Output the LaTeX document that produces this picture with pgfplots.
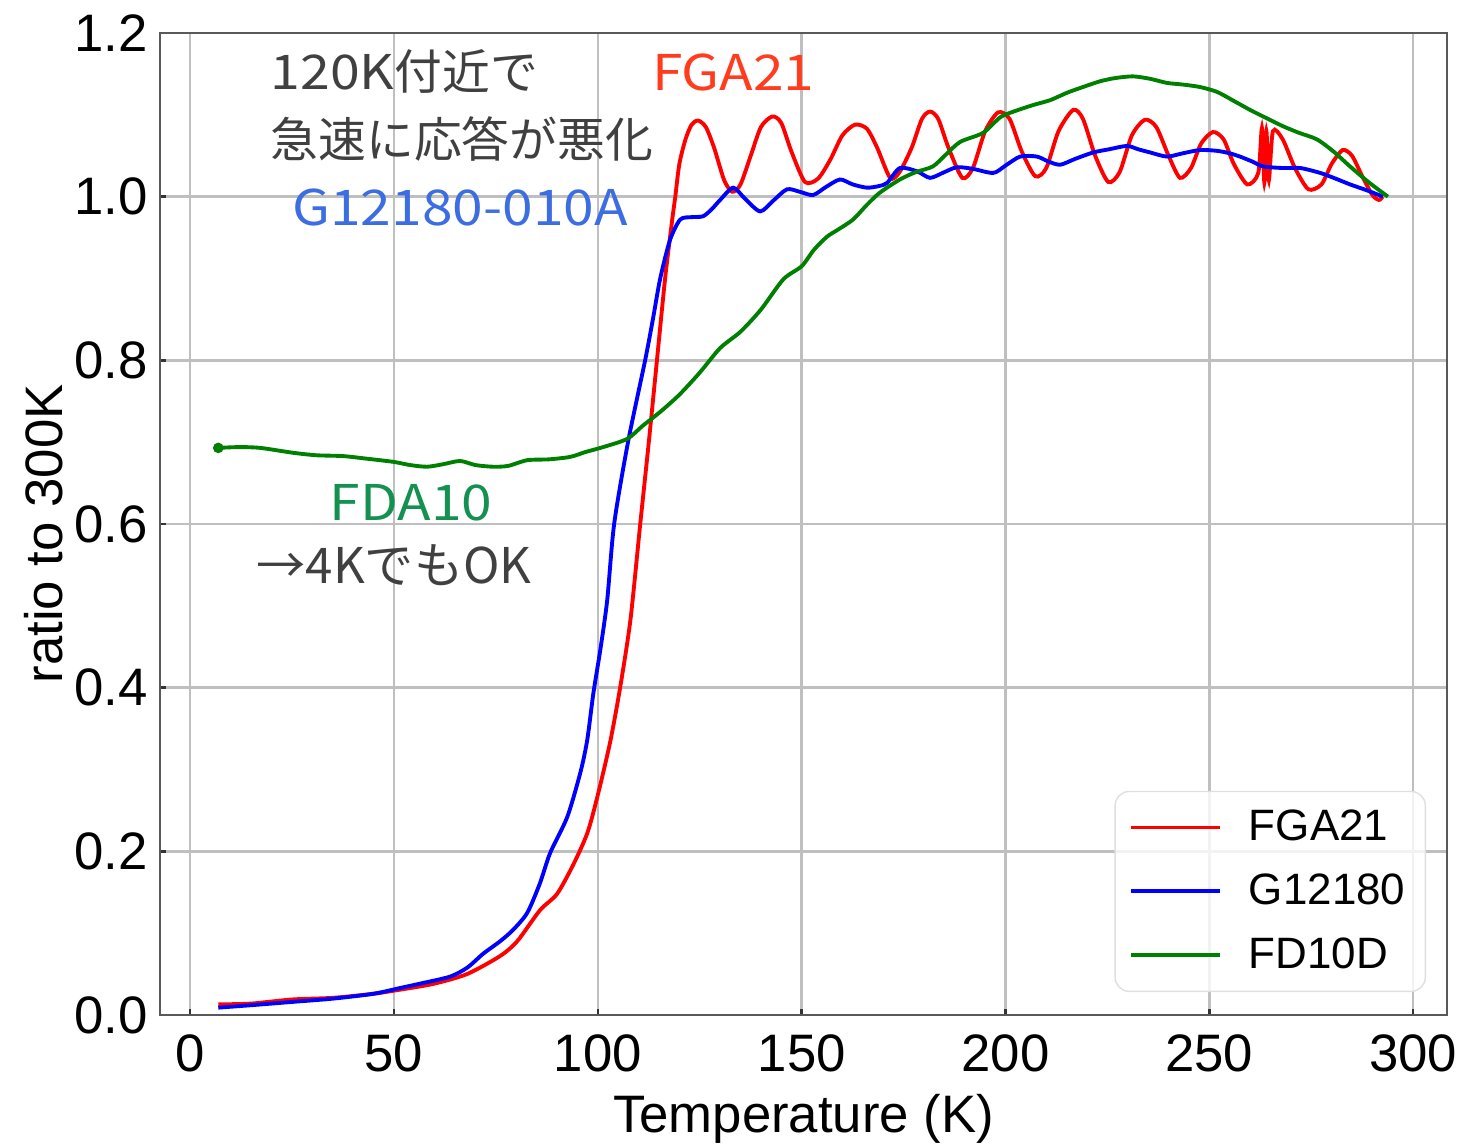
\documentclass[border=0pt]{standalone}
\usepackage{fontspec}
\setmainfont{Liberation Sans}
\newfontfamily\jp{Noto Sans CJK JP}
\newfontfamily\jpwide[FakeStretch=1.12]{Noto Sans CJK JP}
\usepackage{pgfplots}
\pgfplotsset{compat=1.18}
\definecolor{annogray}{RGB}{64,64,64}
\definecolor{annored}{RGB}{255,60,30}
\definecolor{annoblue}{RGB}{60,110,225}
\definecolor{annogreen}{RGB}{20,145,80}
\definecolor{plgreen}{RGB}{0,128,0}
\begin{document}
\begin{tikzpicture}
\begin{axis}[name=ax,
    scale only axis, width=12.87cm, height=9.82cm,
    xmin=-7.4, xmax=308.3, ymin=0, ymax=1.2,
    xtick={0,50,...,300}, ytick={0,0.2,...,1.2},
    xtick pos=left, ytick pos=left,
    /pgf/number format/assume math mode=true,
    xticklabel style={font=\fontsize{15}{18}\selectfont, yshift=-0.07cm},
    yticklabel style={font=\fontsize{15}{18}\selectfont,
      /pgf/number format/.cd, fixed, fixed zerofill, precision=1},
    xlabel={Temperature (K)}, ylabel={ratio to 300K},
    label style={font=\fontsize{15}{18}\selectfont},
    xlabel style={at={(axis description cs:0.5,-0.120)}, anchor=base},
    ylabel style={at={(axis description cs:-0.076,0.49)}, anchor=base},
    grid=major, major grid style={draw=gray!50, line width=0.7pt},
    axis line style={draw=black!65, line width=0.8pt},
    tick align=inside, major tick length=0.06cm,
    tick style={black!80, line width=0.7pt},
    legend style={at={(0.9837,0.0234)}, anchor=south east,
      draw=gray!25, fill=white, fill opacity=0.8, text opacity=1,
      rounded corners=4pt, font=\fontsize{12.5}{15}\selectfont,
      inner xsep=0.14cm, inner ysep=0.12cm, row sep=0.16cm,
      nodes={inner sep=0.06cm},
      /tikz/every odd column/.append style={column sep=0.21cm}},
    legend cell align=left,
    legend image code/.code={\draw[#1] (0cm,0cm) -- (0.89cm,0cm);},
  ]
  % FGA21
  \addplot[red, line width=1.1pt, smooth, tension=0.45] coordinates {
    (6.9,0.013) (15,0.014) (25,0.019) (35,0.021) (45,0.026) (51.5,0.031)
    (59.6,0.038) (67.9,0.050) (76,0.072) (80.2,0.090) (85.8,0.128) (90,0.148)
    (94,0.184) (97.4,0.222) (99.8,0.265) (103,0.333) (105.5,0.401) (108,0.483)
    (110.4,0.60) (112.5,0.70) (114.5,0.80) (116.5,0.90) (118.2,0.97) (119,1.00)
    (120,1.04) (121.5,1.07) (123,1.088) (124.6,1.093) (126.5,1.085) (128.5,1.06)
    (131,1.02) (133,1.006) (135,1.015) (137.5,1.05) (140,1.085) (142.8,1.098)
    (145,1.09) (147.5,1.055) (150.8,1.018) (154,1.022) (157,1.045) (160,1.075)
    (163.1,1.088) (166,1.083) (168.5,1.06) (171.7,1.023) (174,1.03) (177,1.06)
    (179.5,1.095) (181.5,1.104) (183.5,1.095) (186,1.06) (189.4,1.023) (192,1.035)
    (195,1.08) (198.2,1.103) (201,1.095) (204,1.055) (207.3,1.025) (210,1.035)
    (213,1.08) (216.6,1.106) (219,1.095) (222,1.05) (225.2,1.018) (228,1.03)
    (231,1.075) (234.2,1.094) (237,1.085) (240,1.05) (242.8,1.023) (245.5,1.035)
    (248,1.065) (250.9,1.079) (253.5,1.07) (256,1.04) (259.3,1.015) (262,1.029)
    (262.9,1.084) (263.5,1.017) (264.0,1.080) (264.6,1.020) (265.6,1.080)
    (268,1.07) (271,1.035) (274.3,1.009) (277.5,1.015) (280,1.04) (282.7,1.057)
    (285,1.05) (287.5,1.025) (290,1.002) (291.6,0.996) (292.5,1.0)
  };
  \addlegendentry{FGA21}
  % G12180
  \addplot[blue, line width=1.1pt, smooth, tension=0.45] coordinates {
    (6.9,0.009) (15,0.012) (25,0.016) (35,0.020) (45,0.026) (51.5,0.033)
    (57,0.039) (63.8,0.047) (68,0.058) (71.9,0.075) (76,0.090) (79.2,0.104)
    (82.7,0.125) (85.8,0.161) (88.3,0.198) (92.5,0.242) (95.7,0.296) (97.4,0.336)
    (98.9,0.393) (100.6,0.446) (102.3,0.507) (104,0.60) (107.4,0.70) (111.6,0.80)
    (113.5,0.85) (115.3,0.90) (117.7,0.947) (120.2,0.972) (123,0.975) (125.8,0.976)
    (128,0.985) (130,0.996) (133.2,1.011) (136,0.998) (139.8,0.982) (143,0.995)
    (146.4,1.009) (149.5,1.006) (152.8,1.002) (156,1.012) (159.4,1.021) (162.5,1.015)
    (166,1.011) (169,1.013) (171,1.017) (174.1,1.035) (178.3,1.031) (181.5,1.023)
    (185,1.03) (188.1,1.036) (192,1.034) (197,1.029) (200,1.038) (203.6,1.049)
    (207.7,1.049) (210.5,1.043) (213.4,1.039) (217,1.046) (221.5,1.054) (225.5,1.058)
    (229.8,1.062) (232.5,1.058) (235.5,1.054) (239.6,1.049) (243.5,1.053) (247.7,1.057)
    (251.9,1.056) (255,1.053) (257.5,1.049) (260.5,1.043) (263.2,1.037) (268,1.035)
    (272.3,1.035) (277.2,1.029) (281,1.022) (284.5,1.015) (288.5,1.008) (292.6,1.0)
  };
  \addlegendentry{G12180}
  % FD10D
  \addplot[plgreen, line width=1.1pt, smooth, tension=0.45] coordinates {
    (6.9,0.693) (12,0.694) (17.2,0.693) (25.3,0.687) (31,0.684) (37.5,0.683)
    (43,0.680) (49.8,0.676) (54,0.672) (58.1,0.670) (62,0.673) (66.2,0.677)
    (70,0.672) (74.3,0.670) (78,0.671) (82.7,0.678) (88,0.679) (93.2,0.682)
    (97,0.688) (101.3,0.694) (107.2,0.704) (111,0.72) (115.3,0.737) (120,0.758)
    (125,0.785) (130,0.815) (135,0.835) (140,0.862) (145.5,0.899) (150,0.915)
    (153,0.935) (156.2,0.951) (159,0.96) (162.6,0.972) (166,0.99) (169.2,1.005)
    (174.1,1.021) (178,1.03) (182.2,1.037) (185.5,1.052) (188.9,1.067) (194.5,1.078)
    (198.7,1.097) (202,1.104) (206.8,1.112) (211,1.118) (215.1,1.127) (219,1.134)
    (223.2,1.141) (227,1.145) (231.3,1.147) (235.5,1.144) (239.6,1.139) (243.5,1.137)
    (247.7,1.134) (251.9,1.128) (256,1.117) (260,1.106) (264,1.096) (268.1,1.086)
    (272,1.078) (276.4,1.070) (280.5,1.055) (284.5,1.037) (289,1.018) (293.8,1.0)
  };
  \addlegendentry{FD10D}
  \addplot[plgreen, only marks, mark=*, mark size=1.3pt, forget plot] coordinates {(6.9,0.693)};
  \node[anchor=west, inner sep=0pt, text=annogray, font=\jp\fontsize{13.6}{16}\selectfont] at (axis cs:19.6,1.153) {{\jpwide 120K}付近で};
  \node[anchor=west, inner sep=0pt, text=annogray, font=\jp\fontsize{13.6}{16}\selectfont] at (axis cs:19.6,1.070) {急速に応答が悪化};
  \node[text=annoblue, font=\jpwide\fontsize{14}{17}\selectfont] at (axis cs:66.2,0.987) {G12180-010A};
  \node[text=annored, font=\jpwide\fontsize{14}{17}\selectfont] at (axis cs:133.2,1.152) {FGA21};
  \node[text=annogreen, font=\jpwide\fontsize{14}{17}\selectfont] at (axis cs:54.2,0.626) {FDA10};
  \node[text=annogray, font=\jp\fontsize{14}{17}\selectfont] at (axis cs:50.0,0.550) {→4KでもOK};
\end{axis}
\pgfresetboundingbox
\path[use as bounding box] ([shift={(-1.60cm,-1.30cm)}]ax.south west) rectangle ([shift={(0.14cm,0.33cm)}]ax.north east);
\end{tikzpicture}
\end{document}
